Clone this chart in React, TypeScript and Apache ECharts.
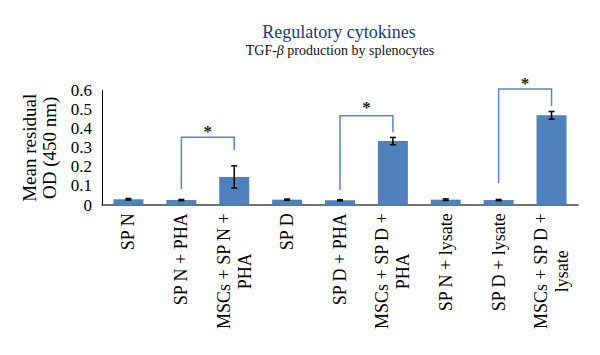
import React, { useEffect, useRef } from 'react';
import * as echarts from 'echarts';

const categories = [
  'SP N',
  'SP N + PHA',
  'MSCs + SP N +\nPHA',
  'SP D',
  'SP D + PHA',
  'MSCs + SP D +\nPHA',
  'SP N + lysate',
  'SP D + lysate',
  'MSCs + SP D +\nlysate',
];
const means = [0.03, 0.026, 0.147, 0.028, 0.025, 0.335, 0.028, 0.026, 0.47];
const errors = [0.004, 0.003, 0.058, 0.003, 0.003, 0.019, 0.004, 0.003, 0.02];

const yMin = 0;
const yMax = 0.6;
const yInterval = 0.1;

// significance brackets (category indices and value levels)
const bracketFrom = [1, 4, 7];
const bracketTo = [2, 5, 8];
const bracketTop = [0.355, 0.468, 0.608];
const bracketLeftEnd = [0.084, 0.079, 0.114];
const bracketRightEnd = [0.288, 0.381, 0.519];
const starLevel = [0.402, 0.528, 0.655];
const starText = ['*', '*', '*'];

const titleText = 'Regulatory cytokines';
const subtitleText = 'TGF-{b|β} production by splenocytes';
const yName = 'Mean residual\nOD (450 nm)';

const FONT = 'Liberation Serif';
const BAR = '#4f81bd';
const BRACKET = '#5b87c5';

export default function App() {
  const ref = useRef<HTMLDivElement>(null);
  useEffect(() => {
    if (!ref.current) return;
    const chart = echarts.init(ref.current, null, { renderer: 'svg' });

    const errData = means.map((m, i) => [i, m - errors[i], m + errors[i]]);
    const brData = bracketFrom.map((f, i) => [
      f,
      bracketTo[i],
      bracketTop[i],
      bracketLeftEnd[i],
      bracketRightEnd[i],
      starLevel[i],
    ]);

    chart.setOption({
      animation: false,
      backgroundColor: '#ffffff',
      graphic: [
        {
          type: 'text',
          x: 339,
          y: 32,
          style: {
            text: titleText,
            fontFamily: FONT,
            fontSize: 18,
            fill: '#1f3b73',
            align: 'center',
            verticalAlign: 'middle',
          },
        },
        {
          type: 'text',
          x: 340,
          y: 50,
          style: {
            text: subtitleText,
            fontFamily: FONT,
            fontSize: 14,
            fill: '#111',
            align: 'center',
            verticalAlign: 'middle',
            rich: {
              b: { fontFamily: FONT, fontSize: 14, fontStyle: 'italic', fill: '#111' },
            },
          },
        },
      ],
      grid: {
        left: 102,
        right: 22,
        top: 90.5,
        bottom: 150,
        containLabel: false,
        outerBoundsMode: 'none',
      },
      xAxis: {
        type: 'category',
        data: categories,
        axisLine: { show: true, lineStyle: { color: '#444', width: 1.5 } },
        axisTick: { show: false },
        axisLabel: {
          interval: 0,
          rotate: 90,
          margin: 8,
          fontFamily: FONT,
          fontSize: 18,
          color: '#000',
          lineHeight: 21,
          formatter: (v: string) =>
            v
              .split('\n')
              .map((s) => `{c|${s}}`)
              .join('\n'),
          rich: {
            c: {
              align: 'center',
              fontFamily: FONT,
              fontSize: 18,
              lineHeight: 21,
              color: '#000',
            },
          },
        },
        splitLine: { show: false },
      },
      yAxis: {
        type: 'value',
        min: yMin,
        max: yMax,
        interval: yInterval,
        name: yName,
        nameLocation: 'middle',
        nameRotate: 90,
        nameGap: 41,
        nameTextStyle: {
          fontFamily: FONT,
          fontSize: 19,
          lineHeight: 20,
          color: '#000',
          align: 'center',
        },
        axisLine: { show: true, lineStyle: { color: '#000', width: 1 } },
        axisTick: { show: false },
        axisLabel: {
          fontFamily: FONT,
          fontSize: 17,
          color: '#000',
          margin: 10,
        },
        splitLine: { show: false },
      },
      series: [
        {
          type: 'bar',
          data: means,
          barWidth: 30,
          itemStyle: { color: BAR },
          z: 2,
        },
        {
          type: 'custom',
          data: errData,
          z: 4,
          renderItem: (params: any, api: any) => {
            const x = api.value(0);
            const lo = api.coord([x, api.value(1)]);
            const hi = api.coord([x, api.value(2)]);
            const hw = 3;
            const style = { stroke: '#000', lineWidth: 1.5 };
            return {
              type: 'group',
              children: [
                { type: 'line', shape: { x1: lo[0], y1: lo[1], x2: hi[0], y2: hi[1] }, style },
                { type: 'line', shape: { x1: lo[0] - hw, y1: lo[1], x2: lo[0] + hw, y2: lo[1] }, style },
                { type: 'line', shape: { x1: hi[0] - hw, y1: hi[1], x2: hi[0] + hw, y2: hi[1] }, style },
              ],
            };
          },
        },
        {
          type: 'custom',
          data: brData,
          z: 5,
          clip: false,
          renderItem: (params: any, api: any) => {
            const f = api.value(0);
            const t = api.value(1);
            const top = api.value(2);
            const le = api.value(3);
            const re = api.value(4);
            const sy = api.value(5);
            const pLeftEnd = api.coord([f, le]);
            const pLeftTop = api.coord([f, top]);
            const pRightTop = api.coord([t, top]);
            const pRightEnd = api.coord([t, re]);
            const pStar = api.coord([(f + t) / 2, sy]);
            return {
              type: 'group',
              children: [
                {
                  type: 'polyline',
                  shape: { points: [pLeftEnd, pLeftTop, pRightTop, pRightEnd] },
                  style: { stroke: BRACKET, lineWidth: 1.5, fill: 'none' },
                },
                {
                  type: 'text',
                  x: (pLeftTop[0] + pRightTop[0]) / 2,
                  y: pStar[1] + 3,
                  style: {
                    text: starText[params.dataIndex],
                    fontFamily: FONT,
                    fontSize: 17,
                    fontWeight: 'bold',
                    fill: '#222',
                    align: 'center',
                    verticalAlign: 'middle',
                  },
                },
              ],
            };
          },
        },
      ],
    });
    return () => chart.dispose();
  }, []);
  return (
    <div
      ref={ref}
      style={{ position: 'absolute', left: 0, top: 0, width: 600, height: 355 }}
    />
  );
}
